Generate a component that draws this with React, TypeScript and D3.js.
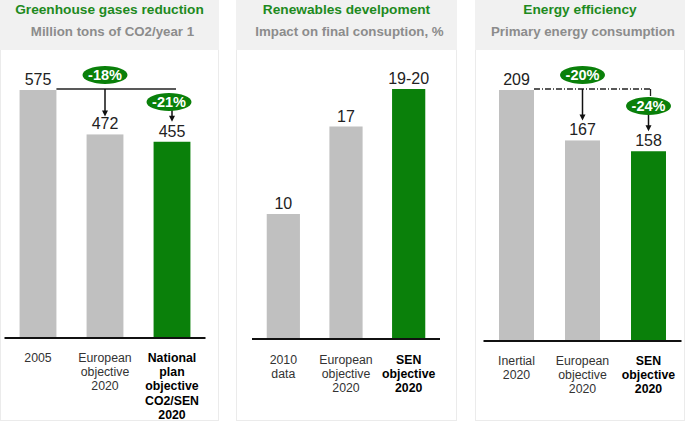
import React from "react";
import * as d3 from "d3";

const W = 685;
const H = 423;
const GREEN = "#0a800a";
const GREY_BAR = "#c0c0c0";
const FONT = "Arial, 'Liberation Sans', sans-serif";

// Panel 1: Greenhouse gases reduction
const ghgTitle = "Greenhouse gases reduction";
const ghgSubtitle = "Million tons of CO2/year 1";
const ghgCategories = [["2005"], ["European", "objective", "2020"], ["National", "plan", "objective", "CO2/SEN", "2020"]];
const ghgValues = [575, 472, 455];
const ghgLabels = ["575", "472", "455"];
const ghgChanges = ["-18%", "-21%"];

// Panel 2: Renewables development
const renTitle = "Renewables develpoment";
const renSubtitle = "Impact on final consuption, %";
const renCategories = [["2010", "data"], ["European", "objective", "2020"], ["SEN", "objective", "2020"]];
const renValues = [10, 17, 20];
const renLabels = ["10", "17", "19-20"];

// Panel 3: Energy efficiency
const effTitle = "Energy efficiency";
const effSubtitle = "Primary energy consumption";
const effCategories = [["Inertial", "2020"], ["European", "objective", "2020"], ["SEN", "objective", "2020"]];
const effValues = [209, 167, 158];
const effLabels = ["209", "167", "158"];
const effChanges = ["-20%", "-24%"];

type PanelProps = {
  px0: number; px1: number;
  title: string; subtitle: string;
  cats: string[][]; values: number[]; labels: string[];
  bx0: number; bx1: number; pad: number;
  base: number; top: number;
  catY: number;
  children?: (x: d3.ScaleBand<string>, y: d3.ScaleLinear<number, number>, keys: string[]) => React.ReactNode;
};

function Panel(p: PanelProps) {
  const keys = p.cats.map((c) => c.join(" "));
  const x = d3.scaleBand<string>().domain(keys).range([p.bx0, p.bx1]).paddingInner(p.pad).paddingOuter(p.pad / 2);
  const y = d3.scaleLinear().domain([0, d3.max(p.values) as number]).range([p.base, p.top]);
  const cx = (p.px0 + p.px1) / 2;
  return (
    <g>
      <rect x={p.px0 + 0.5} y={0.5} width={p.px1 - p.px0 - 1} height={420} fill="#fff" stroke="#ebebeb" />
      <rect x={p.px0} y={0} width={p.px1 - p.px0} height={50} fill="#f1f1f1" />
      <text x={cx} y={14} textAnchor="middle" fontFamily={FONT} fontWeight="bold" fontSize={13.7} fill="#1e8a1e">{p.title}</text>
      <text x={cx + 3} y={36} textAnchor="middle" fontFamily={FONT} fontWeight="bold" fontSize={13.3} fill="#8c8c8c">{p.subtitle}</text>
      {p.values.map((v, i) => (
        <rect key={keys[i]} x={x(keys[i])} y={y(v)} width={x.bandwidth()} height={p.base - y(v)} fill={i === p.values.length - 1 ? GREEN : GREY_BAR} />
      ))}
      {p.values.map((v, i) => (
        <text key={"l" + i} x={(x(keys[i]) as number) + x.bandwidth() / 2} y={y(v) - 5} textAnchor="middle" fontFamily={FONT} fontSize={16} fill="#222">{p.labels[i]}</text>
      ))}
      <line x1={p.bx0} x2={p.bx1} y1={p.base} y2={p.base} stroke="#111" strokeWidth={2} />
      {p.cats.map((lines, i) => {
        const bold = i === p.cats.length - 1;
        return (
          <text key={"c" + i} textAnchor="middle" fontFamily={FONT} fontSize={12.3} fontWeight={bold ? "bold" : "normal"} fill={bold ? "#000" : "#333"}>
            {lines.map((ln, j) => (
              <tspan key={j} x={(x(keys[i]) as number) + x.bandwidth() / 2} y={p.catY + j * 14.2}>{ln}</tspan>
            ))}
          </text>
        );
      })}
      {p.children && p.children(x, y, keys)}
    </g>
  );
}

function Badge({ cx, cy, text }: { cx: number; cy: number; text: string }) {
  return (
    <g>
      <ellipse cx={cx} cy={cy} rx={22.5} ry={9} fill={GREEN} />
      <text x={cx} y={cy + 5} textAnchor="middle" fontFamily={FONT} fontWeight="bold" fontSize={14.5} fill="#fff">{text}</text>
    </g>
  );
}

function Arrow({ x, y1, y2 }: { x: number; y1: number; y2: number }) {
  return (
    <g>
      <line x1={x} x2={x} y1={y1} y2={y2 - 5} stroke="#111" strokeWidth={1.5} />
      <path d={`M${x - 3},${y2 - 6} L${x + 3},${y2 - 6} L${x},${y2} Z`} fill="#111" />
    </g>
  );
}

export default function App() {
  return (
    <svg width={W} height={H} style={{ position: "absolute", left: 0, top: 0, background: "#fff" }}>
      <rect width={W} height={H} fill="#fff" />
      <Panel px0={0} px1={219} title={ghgTitle} subtitle={ghgSubtitle} cats={ghgCategories} values={ghgValues} labels={ghgLabels}
        bx0={4.5} bx1={205.5} pad={0.45} base={338} top={90} catY={362}>
        {(x, y, keys) => {
          const c = (i: number) => (x(keys[i]) as number) + x.bandwidth() / 2;
          const yTop = y(ghgValues[0]);
          return (
            <g>
              <line x1={(x(keys[0]) as number) + x.bandwidth()} x2={c(2) + 4} y1={yTop - 1} y2={yTop - 1} stroke="#222" strokeWidth={1.5} />
              <Arrow x={c(1)} y1={yTop - 1} y2={y(ghgValues[1]) - 18} />
              <Badge cx={c(1)} cy={yTop - 15} text={ghgChanges[0]} />
              <Arrow x={c(2)} y1={yTop + 20} y2={y(ghgValues[2]) - 20} />
              <Badge cx={c(2) - 3} cy={yTop + 12} text={ghgChanges[1]} />
            </g>
          );
        }}
      </Panel>
      <Panel px0={236} px1={457} title={renTitle} subtitle={renSubtitle} cats={renCategories} values={renValues} labels={renLabels}
        bx0={252} bx1={440} pad={0.47} base={339} top={89} catY={364} />
      <Panel px0={475} px1={685} title={effTitle} subtitle={effSubtitle} cats={effCategories} values={effValues} labels={effLabels}
        bx0={483.5} bx1={681.5} pad={0.47} base={341} top={90} catY={365}>
        {(x, y, keys) => {
          const c = (i: number) => (x(keys[i]) as number) + x.bandwidth() / 2;
          const yTop = y(effValues[0]);
          return (
            <g>
              <line x1={(x(keys[0]) as number) + x.bandwidth()} x2={c(2) + 2} y1={yTop - 1} y2={yTop - 1} stroke="#222" strokeWidth={1.3} strokeDasharray="6,2,1,2" />
              <line x1={c(2) + 2} x2={c(2) + 2} y1={yTop - 1} y2={yTop + 6} stroke="#222" strokeWidth={1.3} />
              <Arrow x={c(1)} y1={yTop - 1} y2={y(effValues[1]) - 20} />
              <Badge cx={c(1)} cy={yTop - 15} text={effChanges[0]} />
              <Arrow x={c(2)} y1={yTop + 24} y2={y(effValues[2]) - 20} />
              <Badge cx={c(2)} cy={yTop + 16} text={effChanges[1]} />
            </g>
          );
        }}
      </Panel>
    </svg>
  );
}
